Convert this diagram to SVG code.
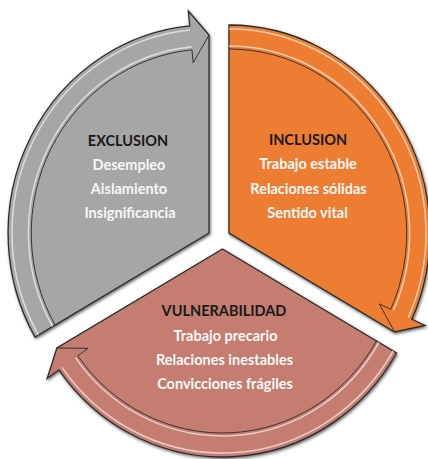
<svg xmlns="http://www.w3.org/2000/svg" width="428" height="459" viewBox="0 0 428 459">
<defs>
<filter id="sh" x="-10%" y="-10%" width="120%" height="120%">
<feDropShadow dx="1" dy="1.5" stdDeviation="1.5" flood-color="#000" flood-opacity="0.6"/>
</filter>
<style>
.edge{stroke:#2b2b2b;stroke-width:1.3;stroke-linejoin:miter}
.inner{fill:none;stroke:#333;stroke-width:1}
.hl{fill:none;stroke:#fff;stroke-opacity:0.6;stroke-width:1.6}
.gray{fill:#a6a6a6}
.orange{fill:#ed7d31}
.rose{fill:#c47d6f}
text{font-family:Lato,"Open Sans","Liberation Sans",sans-serif;font-weight:bold;font-size:14.5px;text-anchor:middle}
.t{fill:#1a1a1a}
.i{fill:#f7f7f7}
</style>
</defs>
<rect width="428" height="459" fill="#fff"/>

<g id="exclusion">
<g transform="translate(209,233) scale(0.966,1)">
<path class="gray edge" filter="url(#sh)" d="M0,0 L-180.13,104 A208,208 0 0 1 -19.94,-207.04 L-21.37,-221.97 L0,-198 Z"/>
<path class="hl" d="M-176.67,102 A204,204 0 0 1 -19.56,-203.06"/>
<path class="hl" d="M-161.9,93.5 A187,187 0 0 1 -17.9,-186.1"/>
<path class="inner" d="M-159.35,92 A184,184 0 0 1 -17.64,-183.15 L-16.39,-170.21 L0,-198"/>
</g>
<text class="t" x="128" y="145.5">EXCLUSION</text>
<text class="i" x="129" y="169.5">Desempleo</text>
<text class="i" x="129" y="194">Aislamiento</text>
<text class="i" x="130" y="218">Insignificancia</text>
</g>

<g id="inclusion">
<g transform="translate(229,233) scale(0.966,1)">
<path class="orange edge" filter="url(#sh)" d="M0,0 L0,-208 A208,208 0 0 1 189.27,86.26 L202.92,92.48 L171.47,99 Z"/>
<path class="hl" d="M0,-204 A204,204 0 0 1 185.63,84.6"/>
<path class="hl" d="M0,-187 A187,187 0 0 1 170.2,77.5"/>
<path class="inner" d="M0,-184 A184,184 0 0 1 167.43,76.3 L155.6,70.91 L171.47,99"/>
</g>
<text class="t" x="308" y="145">INCLUSION</text>
<text class="i" x="308" y="168.5">Trabajo estable</text>
<text class="i" x="308.5" y="194">Relaciones sólidas</text>
<text class="i" x="307.5" y="218">Sentido vital</text>
</g>

<g id="vulnerabilidad">
<g transform="translate(222.5,249) scale(0.966,1)">
<path class="rose edge" filter="url(#sh)" d="M0,0 L180.13,104 A208,208 0 0 1 -169.34,120.79 L-181.55,129.5 L-171.47,99 Z"/>
<path class="hl" d="M176.67,102 A204,204 0 0 1 -166.08,118.46"/>
<path class="hl" d="M161.9,93.5 A187,187 0 0 1 -152.2,108.6"/>
<path class="inner" d="M159.35,92 A184,184 0 0 1 -149.8,106.85 L-139.21,99.3 L-171.47,99"/>
</g>
<text class="t" x="224" y="316">VULNERABILIDAD</text>
<text class="i" x="225.5" y="341">Trabajo precario</text>
<text class="i" x="224.5" y="365">Relaciones inestables</text>
<text class="i" x="225" y="389">Convicciones frágiles</text>
</g>
</svg>
